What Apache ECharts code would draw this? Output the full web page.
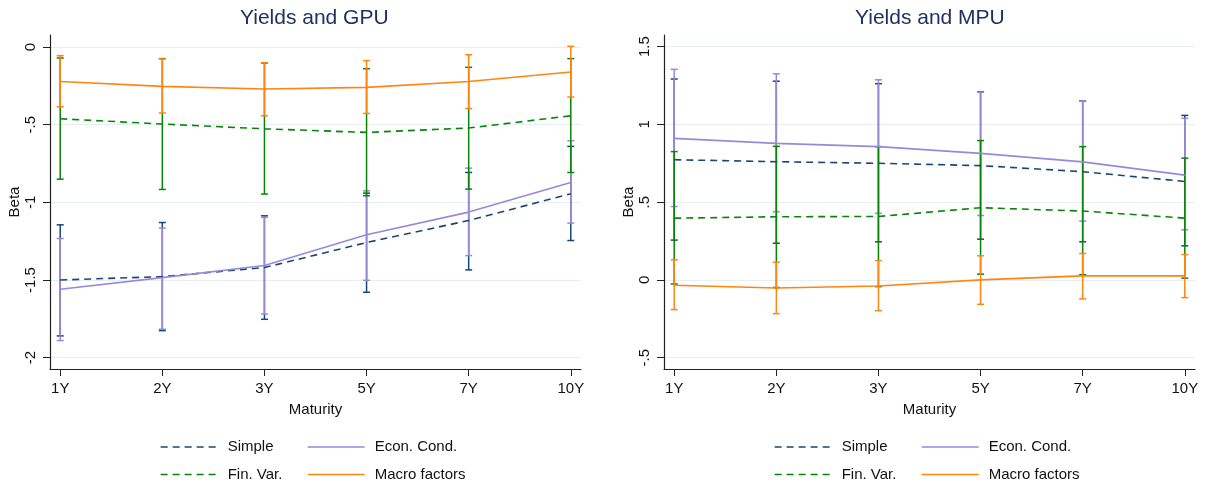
<!DOCTYPE html>
<html>
<head>
<meta charset="utf-8">
<script src="https://cdn.jsdelivr.net/npm/echarts@6/dist/echarts.min.js"></script>
<style>
  html, body { margin: 0; padding: 0; background: #fff; }
  #chart { width: 1208px; height: 487px; }
</style>
</head>
<body>
<div id="chart"></div>
<script>
const maturities = ['1Y', '2Y', '3Y', '5Y', '7Y', '10Y']
const seriesNames = ['Simple', 'Econ. Cond.', 'Fin. Var.', 'Macro factors']
const gpuTicks = [-2, -1.5, -1, -0.5, 0]
const mpuTicks = [-0.5, 0, 0.5, 1, 1.5]

// Yields and GPU
const simpleGpu = [-1.50, -1.478, -1.42, -1.259, -1.117, -0.945]
const simpleGpuLo = [-1.86, -1.826, -1.753, -1.579, -1.435, -1.246]
const simpleGpuHi = [-1.145, -1.13, -1.087, -0.941, -0.808, -0.64]
const econGpu = [-1.56, -1.485, -1.407, -1.209, -1.063, -0.872]
const econGpuLo = [-1.89, -1.817, -1.719, -1.502, -1.343, -1.134]
const econGpuHi = [-1.233, -1.166, -1.096, -0.926, -0.78, -0.604]
const finGpu = [-0.462, -0.496, -0.527, -0.55, -0.522, -0.443]
const finGpuLo = [-0.851, -0.917, -0.947, -0.958, -0.915, -0.808]
const finGpuHi = [-0.071, -0.075, -0.103, -0.14, -0.131, -0.075]
const macroGpu = [-0.222, -0.254, -0.271, -0.26, -0.222, -0.161]
const macroGpuLo = [-0.385, -0.425, -0.443, -0.428, -0.396, -0.322]
const macroGpuHi = [-0.056, -0.077, -0.101, -0.088, -0.05, 0.004]

// Yields and MPU
const simpleMpu = [0.773, 0.76, 0.75, 0.735, 0.696, 0.633]
const simpleMpuLo = [0.256, 0.236, 0.245, 0.262, 0.245, 0.219]
const simpleMpuHi = [1.292, 1.278, 1.262, 1.21, 1.15, 1.058]
const econMpu = [0.91, 0.878, 0.857, 0.814, 0.759, 0.674]
const econMpuLo = [0.472, 0.438, 0.428, 0.414, 0.378, 0.322]
const econMpuHi = [1.354, 1.325, 1.287, 1.208, 1.148, 1.039]
const finMpu = [0.397, 0.406, 0.408, 0.464, 0.443, 0.397]
const finMpuLo = [-0.026, -0.049, -0.043, 0.037, 0.034, 0.011]
const finMpuHi = [0.825, 0.859, 0.857, 0.896, 0.857, 0.783]
const macroMpu = [-0.034, -0.052, -0.039, 0.0, 0.026, 0.026]
const macroMpuLo = [-0.191, -0.217, -0.198, -0.157, -0.122, -0.114]
const macroMpuHi = [0.129, 0.114, 0.124, 0.155, 0.17, 0.163]

const FONT = '"Liberation Sans", Arial, sans-serif'
const colors = ['#1a476f', '#968ad8', '#088508', '#ff8512']
const dashed = [true, false, true, false]

const chart = echarts.init(document.getElementById('chart'))

function stataLabel(v) {
  return String(v).replace(/^(-?)0\./, '$1.')
}

function makeAxes(idx, ticks, min, max) {
  const x = {
    type: 'value', gridIndex: idx, min: -0.1, max: 5.1,
    name: 'Maturity', nameLocation: 'middle', nameGap: 33, nameMoveOverlap: false,
    nameTextStyle: { fontFamily: FONT, fontSize: 15, color: '#111' },
    axisLine: { onZero: false, lineStyle: { color: '#222', width: 1.2 } },
    axisTick: { length: 7, lineStyle: { color: '#222' }, customValues: [0, 1, 2, 3, 4, 5] },
    axisLabel: {
      customValues: [0, 1, 2, 3, 4, 5], margin: 12,
      fontFamily: FONT, fontSize: 15, color: '#111',
      formatter: v => maturities[Math.round(v)]
    },
    splitLine: { show: false }
  }
  const y = {
    type: 'value', gridIndex: idx, min: min, max: max,
    name: 'Beta', nameLocation: 'middle', nameGap: 28, nameRotate: 90, nameMoveOverlap: false,
    nameTextStyle: { fontFamily: FONT, fontSize: 15, color: '#111' },
    axisLine: { show: true, onZero: false, lineStyle: { color: '#222', width: 1.2 } },
    axisTick: { show: true, length: 7, lineStyle: { color: '#222' }, customValues: ticks },
    axisLabel: {
      customValues: ticks, rotate: 90, margin: 12,
      fontFamily: FONT, fontSize: 15, color: '#111',
      formatter: stataLabel
    },
    splitLine: { show: true, lineStyle: { color: '#e7eff2', width: 1.2 } }
  }
  return { x, y }
}

function errorBars(idx, k, lo, hi) {
  const color = colors[k]
  return {
    type: 'custom', name: seriesNames[k] + ' CI', xAxisIndex: idx, yAxisIndex: idx,
    data: lo.map((v, i) => [i, v, hi[i]]),
    encode: { x: 0, y: [1, 2] },
    z: 2, silent: true,
    renderItem: function (params, api) {
      const top = api.coord([api.value(0), api.value(2)])
      const bot = api.coord([api.value(0), api.value(1)])
      const w = 3.5
      const style = { stroke: color, lineWidth: 1.5 }
      return {
        type: 'group',
        children: [
          { type: 'line', shape: { x1: top[0], y1: top[1], x2: bot[0], y2: bot[1] }, style },
          { type: 'line', shape: { x1: top[0] - w, y1: top[1], x2: top[0] + w, y2: top[1] }, style },
          { type: 'line', shape: { x1: bot[0] - w, y1: bot[1], x2: bot[0] + w, y2: bot[1] }, style }
        ]
      }
    }
  }
}

function lineSeries(idx, k, values) {
  return {
    type: 'line', name: seriesNames[k], xAxisIndex: idx, yAxisIndex: idx,
    data: values.map((v, i) => [i, v]),
    symbol: 'none', z: 3,
    lineStyle: { color: colors[k], width: 1.6, type: dashed[k] ? [7, 5] : 'solid' },
    itemStyle: { color: colors[k] }
  }
}

const gpu = makeAxes(0, gpuTicks, -2.073, 0.077)
const mpu = makeAxes(1, mpuTicks, -0.573, 1.575)

const gpuSets = [
  [simpleGpu, simpleGpuLo, simpleGpuHi],
  [econGpu, econGpuLo, econGpuHi],
  [finGpu, finGpuLo, finGpuHi],
  [macroGpu, macroGpuLo, macroGpuHi]
]
const mpuSets = [
  [simpleMpu, simpleMpuLo, simpleMpuHi],
  [econMpu, econMpuLo, econMpuHi],
  [finMpu, finMpuLo, finMpuHi],
  [macroMpu, macroMpuLo, macroMpuHi]
]

const series = []
;[gpuSets, mpuSets].forEach((sets, idx) => {
  sets.forEach((s, k) => series.push(errorBars(idx, k, s[1], s[2])))
  sets.forEach((s, k) => series.push(lineSeries(idx, k, s[0])))
})

function legendCol(left, names) {
  return {
    left: left, top: 438, orient: 'vertical', padding: 0,
    data: names, itemWidth: 57, itemHeight: 14, itemGap: 9.5,
    selectedMode: false,
    itemStyle: { opacity: 0 },
    lineStyle: { width: 1.3 },
    textStyle: { fontFamily: FONT, fontSize: 15, color: '#111', lineHeight: 18, padding: [0, 0, 0, 5] }
  }
}

const option = {
  animation: false,
  title: [
    { text: 'Yields and GPU', left: 235, top: 3,
      textStyle: { fontFamily: FONT, fontSize: 21, fontWeight: 'normal', color: '#1e3160' } },
    { text: 'Yields and MPU', left: 850, top: 3,
      textStyle: { fontFamily: FONT, fontSize: 21, fontWeight: 'normal', color: '#1e3160' } }
  ],
  legend: [
    legendCol(160, ['Simple', 'Fin. Var.']),
    legendCol(307, ['Econ. Cond.', 'Macro factors']),
    legendCol(774, ['Simple', 'Fin. Var.']),
    legendCol(921, ['Econ. Cond.', 'Macro factors'])
  ],
  grid: [
    { left: 50, top: 35, width: 531, height: 334, outerBoundsMode: 'none' },
    { left: 664, top: 35, width: 531, height: 334, outerBoundsMode: 'none' }
  ],
  xAxis: [gpu.x, mpu.x],
  yAxis: [gpu.y, mpu.y],
  series: series
}

chart.setOption(option)
</script>
</body>
</html>
